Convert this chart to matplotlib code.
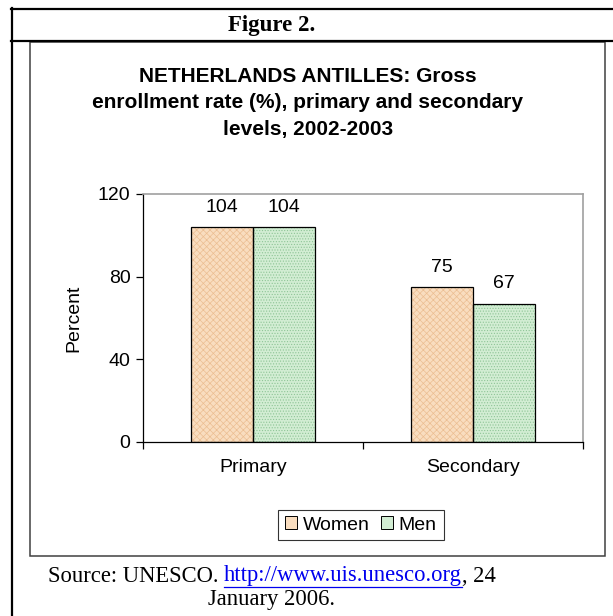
import matplotlib
matplotlib.use("Agg")
import matplotlib.pyplot as plt
from matplotlib.lines import Line2D
from matplotlib.patches import Rectangle
import numpy as np

categories = ["Primary", "Secondary"]
women = [104, 75]
men = [104, 67]
yticks = [0, 40, 80, 120]

W, H = 613, 616
fig = plt.figure(figsize=(W / 100, H / 100), dpi=100)
fig.patch.set_facecolor("white")
plt.rcParams["hatch.linewidth"] = 0.5

def fx(x):
    return x / W

def fy(y):
    return 1 - y / H

def hline(y, x0, x1, lw, color):
    fig.add_artist(Line2D([fx(x0), fx(x1)], [fy(y), fy(y)], lw=lw, color=color, transform=fig.transFigure))

def vline(x, y0, y1, lw, color):
    fig.add_artist(Line2D([fx(x), fx(x)], [fy(y0), fy(y1)], lw=lw, color=color, transform=fig.transFigure))

# outer table borders
hline(9, 11, 613, 1.6, "black")
hline(41, 11, 613, 1.6, "black")
vline(12, 8, 616, 1.6, "black")
# inner chart box
fig.add_artist(Rectangle((fx(30), fy(556)), fx(605) - fx(30), fy(42) - fy(556),
                         fill=False, ec="#404040", lw=1.1, transform=fig.transFigure))

serif = ["Liberation Serif", "DejaVu Serif"]
sans = ["Liberation Sans", "DejaVu Sans"]
fs_s = 14

fig.text(fx(272), fy(25), "Figure 2.", ha="center", va="center", fontsize=16.5,
         fontweight="bold", family=serif)

title_lines = ["NETHERLANDS ANTILLES: Gross",
               "enrollment rate (%), primary and secondary",
               "levels, 2002-2003"]
for i, t in enumerate(title_lines):
    fig.text(fx(308), fy(76 + 26.5 * i), t, ha="center", va="center", fontsize=15,
             fontweight="bold", family=sans)

ax = fig.add_axes([fx(143), fy(442), fx(583) - fx(143), fy(194) - fy(442)])
x = np.arange(len(categories))
bw = 62 / 220
# fills with light pattern
ax.bar(x - bw / 2, women, bw, color="#F9DDBF", edgecolor="#EBBE92", lw=0,
       hatch="xxxxx")
ax.bar(x + bw / 2, men, bw, color="#D2EDD3", edgecolor="#8FC597", lw=0,
       hatch="......")
# outlines
b1 = ax.bar(x - bw / 2, women, bw, fill=False, edgecolor="black", lw=0.9)
b2 = ax.bar(x + bw / 2, men, bw, fill=False, edgecolor="black", lw=0.9)

for bars, vals in ((b1, women), (b2, men)):
    for b, v in zip(bars, vals):
        ax.text(b.get_x() + b.get_width() / 2, v + 5.5, str(v), ha="center", va="bottom",
                fontsize=fs_s, family=sans)

ax.set_xlim(-0.5, 1.5)
ax.set_ylim(0, 120)
ax.set_yticks(yticks)
ax.set_yticklabels([str(t) for t in yticks], fontsize=fs_s, family=sans)
ax.set_xticks(x)
ax.set_xticklabels(categories, fontsize=fs_s, family=sans)
ax.tick_params(axis="x", length=0, pad=12)
ax.tick_params(axis="y", direction="out", length=5, width=0.9, pad=4)
ax.set_xticks([-0.5, 0.5, 1.5], minor=True)
ax.tick_params(axis="x", which="minor", direction="out", length=5, width=0.9)
ax.set_ylabel("Percent", fontsize=fs_s, family=sans, labelpad=11)
for s in ("left", "bottom"):
    ax.spines[s].set_color("black")
    ax.spines[s].set_linewidth(0.9)
for s in ("top", "right"):
    ax.spines[s].set_color("#A0A0A0")
    ax.spines[s].set_linewidth(1.2)

hw = Rectangle((0, 0), 1, 1, facecolor="#F9DDBF", edgecolor="black", lw=0.7)
hm = Rectangle((0, 0), 1, 1, facecolor="#D2EDD3", edgecolor="black", lw=0.7)
leg = fig.legend(handles=[hw, hm], labels=["Women", "Men"], loc="center",
                 bbox_to_anchor=(fx(361), fy(525)), ncol=2, frameon=True,
                 fancybox=False, edgecolor="black", prop={"family": sans, "size": fs_s},
                 handlelength=0.6, handleheight=0.6, handletextpad=0.3,
                 columnspacing=0.6, borderpad=0.35)
leg.get_frame().set_linewidth(0.8)

# source text
t1 = "Source: UNESCO. "
t2 = "http://www.uis.unesco.org"
t3 = ", 24"
fs = 16.3
r = fig.canvas.get_renderer()
parts = []
for t, c in ((t1, "black"), (t2, "#0000EE"), (t3, "black")):
    tt = fig.text(0, fy(576), t, ha="left", va="center", fontsize=fs, family=serif, color=c)
    parts.append(tt)
widths = [p.get_window_extent(r).width for p in parts]
total = sum(widths)
start = 272 - total / 2
cur = start
for p, w in zip(parts, widths):
    p.set_x(fx(cur))
    cur += w
lx0 = start + widths[0]
lx1 = lx0 + widths[1]
hline(587, lx0, lx1, 0.9, "#0000EE")
fig.text(fx(272), fy(600), "January 2006.", ha="center", va="center", fontsize=fs, family=serif)

fig.savefig("out.png", dpi=100)
